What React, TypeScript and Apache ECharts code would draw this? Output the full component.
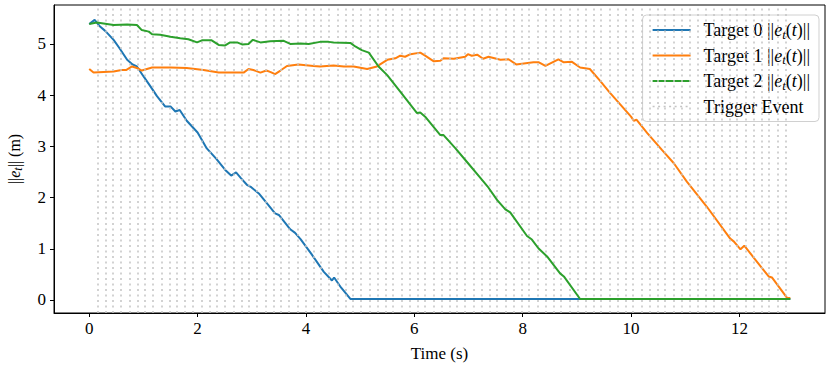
import React, { useEffect, useRef } from "react";
import * as echarts from "echarts";

const xTicks = [0, 2, 4, 6, 8, 10, 12];
const yTicks = [0, 1, 2, 3, 4, 5];

const seriesNames = ["Target 0", "Target 1", "Target 2"];
const triggerName = "Trigger Event";

const target0Error: [number, number][] = [
  [0, 5.39], [0.1, 5.47], [0.2, 5.34], [0.3, 5.25], [0.45, 5.08], [0.55, 4.93], [0.7, 4.69], [0.8, 4.6],
  [0.88, 4.56], [1.0, 4.37], [1.13, 4.17], [1.25, 3.98], [1.4, 3.78], [1.5, 3.78], [1.59, 3.68], [1.67, 3.71],
  [1.8, 3.5], [2.0, 3.27], [2.17, 2.96], [2.35, 2.75], [2.51, 2.54], [2.62, 2.43], [2.71, 2.49], [2.8, 2.38],
  [2.91, 2.25], [2.98, 2.21], [3.13, 2.08], [3.3, 1.86], [3.43, 1.69], [3.5, 1.66], [3.62, 1.5], [3.71, 1.38],
  [3.8, 1.31], [3.9, 1.19], [4.1, 0.9], [4.33, 0.55], [4.48, 0.38], [4.52, 0.44], [4.65, 0.24], [4.82, 0.02],
  [12.94, 0.02],
];

const target1Error: [number, number][] = [
  [0, 4.51], [0.08, 4.44], [0.45, 4.46], [0.6, 4.49], [0.68, 4.49], [0.79, 4.56], [0.88, 4.53], [0.97, 4.48],
  [1.16, 4.54], [1.5, 4.54], [1.8, 4.53], [2.11, 4.49], [2.39, 4.44], [2.85, 4.44], [2.94, 4.51], [3.03, 4.49],
  [3.16, 4.44], [3.27, 4.48], [3.35, 4.45], [3.43, 4.41], [3.53, 4.48], [3.65, 4.57], [3.86, 4.6], [4.14, 4.57],
  [4.26, 4.56], [4.51, 4.58], [4.7, 4.56], [4.88, 4.56], [5.13, 4.51], [5.31, 4.56], [5.5, 4.69], [5.65, 4.72],
  [5.74, 4.77], [5.83, 4.75], [5.93, 4.8], [6.11, 4.83], [6.2, 4.77], [6.36, 4.66], [6.48, 4.67], [6.54, 4.72],
  [6.73, 4.71], [6.94, 4.75], [6.99, 4.8], [7.06, 4.77], [7.16, 4.79], [7.27, 4.71], [7.37, 4.75], [7.59, 4.69],
  [7.74, 4.7], [7.88, 4.6], [8.2, 4.64], [8.3, 4.64], [8.42, 4.57], [8.66, 4.7], [8.76, 4.64], [8.91, 4.65],
  [9.06, 4.54], [9.24, 4.51], [9.43, 4.28], [9.6, 4.06], [9.8, 3.82], [10.0, 3.58], [10.05, 3.5], [10.1, 3.52],
  [10.3, 3.26], [10.57, 2.93], [10.79, 2.67], [11.03, 2.31], [11.4, 1.82], [11.83, 1.2], [11.9, 1.14],
  [12.02, 0.99], [12.09, 1.06], [12.3, 0.78], [12.54, 0.46], [12.6, 0.44], [12.88, 0.04], [12.94, 0.04],
];

const target2Error: [number, number][] = [
  [0, 5.39], [0.14, 5.42], [0.45, 5.37], [0.7, 5.38], [0.88, 5.37], [0.97, 5.27], [1.1, 5.24], [1.16, 5.19],
  [1.31, 5.18], [1.5, 5.14], [1.68, 5.11], [1.83, 5.09], [1.99, 5.03], [2.08, 5.07], [2.26, 5.07], [2.39, 4.98],
  [2.51, 4.97], [2.6, 5.03], [2.73, 5.03], [2.82, 4.99], [2.94, 5.0], [3.02, 5.08], [3.16, 5.03], [3.34, 5.05],
  [3.59, 5.06], [3.71, 5.0], [3.9, 5.01], [4.05, 5.0], [4.26, 5.04], [4.42, 5.04], [4.51, 5.03], [4.82, 5.02],
  [4.91, 4.95], [5.03, 4.88], [5.16, 4.83], [5.34, 4.56], [5.5, 4.39], [5.74, 4.07], [6.05, 3.65], [6.11, 3.66],
  [6.2, 3.58], [6.48, 3.22], [6.54, 3.22], [6.76, 2.96], [7.0, 2.66], [7.2, 2.41], [7.35, 2.22], [7.53, 1.95],
  [7.68, 1.77], [7.77, 1.71], [8.08, 1.25], [8.17, 1.18], [8.29, 1.01], [8.45, 0.85], [8.69, 0.52], [8.76, 0.46],
  [9.06, 0.02], [12.94, 0.02],
];

const triggerTimes = [
  0.15, 0.3, 0.44, 0.59, 0.74, 0.89, 1.03, 1.18, 1.33, 1.48, 1.62, 1.77, 1.92, 2.07, 2.22, 2.36, 2.51, 2.66,
  2.81, 2.95, 3.1, 3.25, 3.4, 3.54, 3.69, 3.84, 3.99, 4.14, 4.28, 4.43, 4.58, 4.73, 4.87, 5.02, 5.17, 5.32,
  5.47, 5.61, 5.76, 5.91, 6.06, 6.2, 6.35, 6.5, 6.65, 6.79, 6.94, 7.09, 7.24, 7.39, 7.53, 7.68, 7.83, 7.98,
  8.12, 8.27, 8.42, 8.57, 8.71, 8.86, 9.01, 9.16, 9.31, 9.45, 9.6, 9.75, 9.9, 10.04, 10.19, 10.34, 10.49,
  10.63, 10.78, 10.93, 11.08, 11.23, 11.37, 11.52, 11.67, 11.82, 11.96, 12.11, 12.26, 12.41, 12.55, 12.7, 12.85,
];

const colors = ["#1f77b4", "#ff7f0e", "#2ca02c"];
const FONT = "Liberation Serif";
const triggerLine = { color: "#c4c4c4", type: [2, 3.5], width: 1.5 };

export default function App() {
  const ref = useRef<HTMLDivElement>(null);
  useEffect(() => {
    if (!ref.current) return;
    const chart = echarts.init(ref.current, null, { renderer: "svg" });
    const mkRich = (size: number, sub: number, subPad: number) => ({
      n: { fontFamily: FONT, fontSize: size, color: "#000" },
      i: { fontFamily: FONT, fontSize: size, fontStyle: "italic", color: "#000" },
      s: { fontFamily: FONT, fontSize: sub, fontStyle: "italic", color: "#000", padding: [subPad, 0, 0, 0] },
    });
    const lineData = [target0Error, target1Error, target2Error];
    const option: any = {
      animation: false,
      textStyle: { fontFamily: FONT },
      grid: {
        left: 54, right: 3, top: 5, bottom: 53,
        outerBoundsMode: "none", containLabel: false,
        show: true, borderColor: "#000", borderWidth: 1, backgroundColor: "transparent",
      },
      xAxis: {
        type: "value", min: -0.65, max: 13.58,
        splitLine: { show: false },
        axisLine: { show: true, onZero: false, lineStyle: { color: "#000", width: 1 } },
        axisTick: { show: true, length: 4, lineStyle: { color: "#000" }, customValues: xTicks },
        axisLabel: { customValues: xTicks, color: "#000", fontSize: 17, fontFamily: FONT, margin: 7 },
        name: "Time (s)", nameLocation: "middle", nameGap: 32,
        nameTextStyle: { color: "#000", fontSize: 17, fontFamily: FONT },
      },
      yAxis: {
        type: "value", min: -0.254, max: 5.76,
        splitLine: { show: false },
        axisLine: { show: true, onZero: false, lineStyle: { color: "#000", width: 1 } },
        axisTick: { show: true, length: 4, lineStyle: { color: "#000" }, customValues: yTicks },
        axisLabel: { customValues: yTicks, color: "#000", fontSize: 17, fontFamily: FONT, margin: 8 },
        name: "{n|||}{i|e}{s|t}{n||| (m)}", nameLocation: "middle", nameGap: 30, nameRotate: 90,
        nameTextStyle: { color: "#000", fontSize: 17, fontFamily: FONT, rich: mkRich(16, 12, 8) },
      },
      legend: {
        orient: "vertical", right: 9, top: 15,
        data: [
          ...seriesNames.map((name) => ({ name })),
          { name: triggerName, lineStyle: triggerLine },
        ],
        itemWidth: 38, itemHeight: 14, itemGap: 6,
        padding: [6, 9, 6, 9],
        itemStyle: { opacity: 0 },
        backgroundColor: "rgba(255,255,255,0.85)",
        borderColor: "#d0d0d0", borderWidth: 1, borderRadius: 4,
        textStyle: { color: "#000", fontSize: 18, fontFamily: FONT, rich: mkRich(18, 13, 8), padding: [0, 0, 0, 8] },
        formatter: (name: string) =>
          name === triggerName
            ? `{n|${name}}`
            : `{n|${name} ||}{i|e}{s|t}{n|(}{i|t}{n|)||}`,
      },
      series: [
        {
          name: triggerName, type: "line", data: [], symbol: "none", z: 1, silent: true,
          lineStyle: triggerLine, itemStyle: { color: "#c4c4c4" },
          markLine: {
            silent: true, symbol: ["none", "none"], label: { show: false },
            lineStyle: triggerLine,
            emphasis: { disabled: true },
            data: triggerTimes.map((t) => ({ xAxis: t })),
          },
        },
        ...seriesNames.map((name, k) => ({
          name, type: "line", data: lineData[k], symbol: "none", showSymbol: false, z: 3 + k,
          lineStyle: { color: colors[k], width: 2 }, itemStyle: { color: colors[k] },
          emphasis: { disabled: true },
        })),
      ],
    };
    chart.setOption(option);
    return () => chart.dispose();
  }, []);
  return (
    <div
      ref={ref}
      style={{ position: "fixed", left: 0, top: 0, width: 828, height: 366, background: "#fff" }}
    />
  );
}
